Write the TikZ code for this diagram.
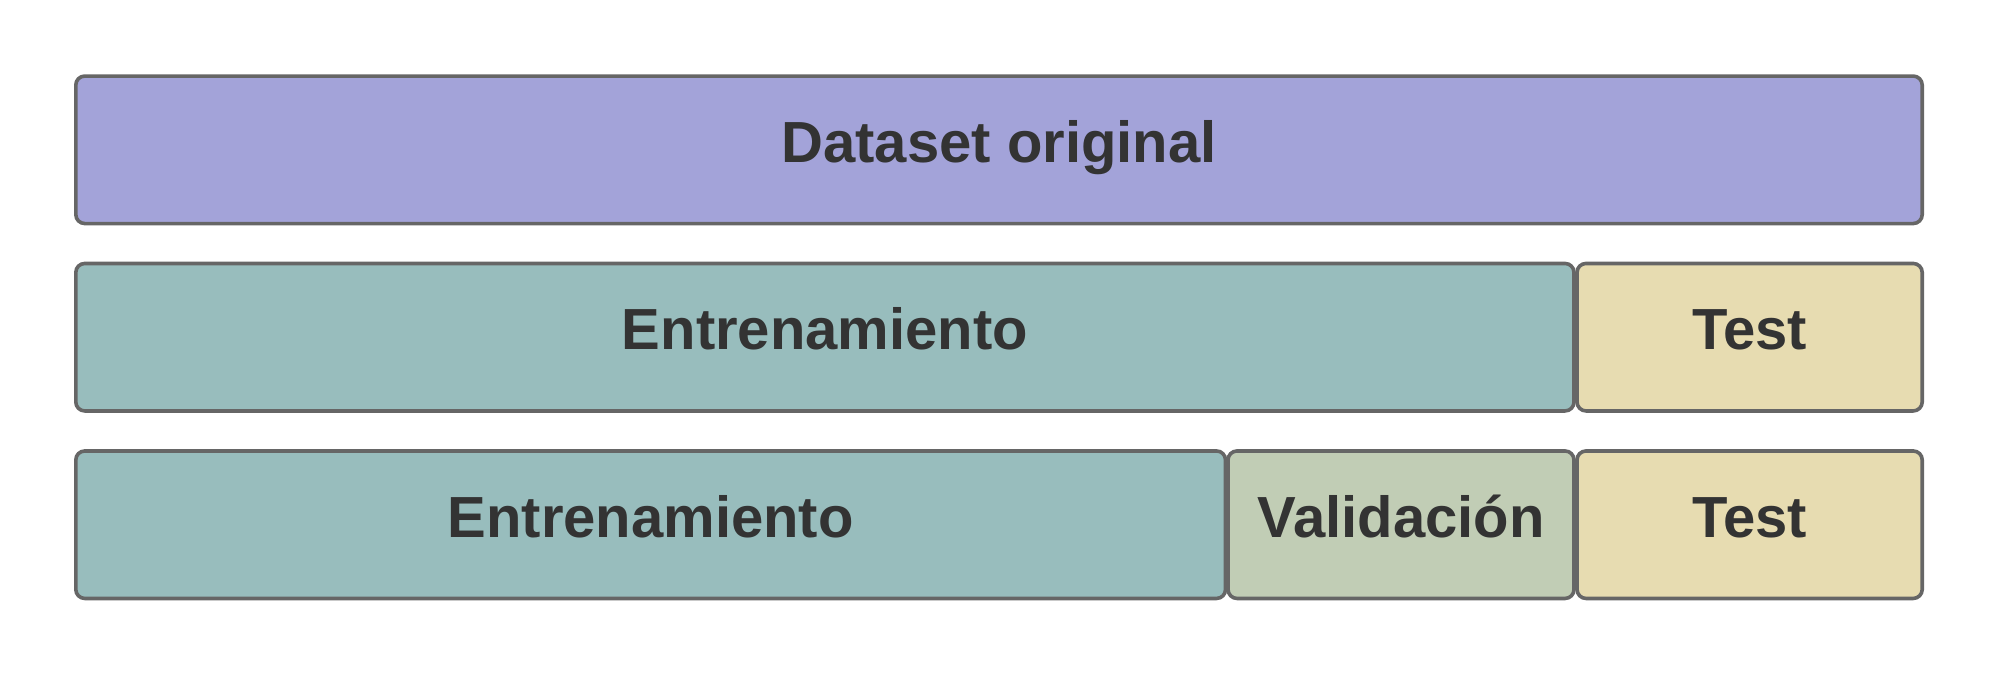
\documentclass[tikz,border=0pt]{standalone}
\usepackage{fontspec}
\setmainfont{Liberation Sans}
\definecolor{cpurple}{RGB}{163,163,217}
\definecolor{cteal}{RGB}{152,189,189}
\definecolor{cval}{RGB}{193,205,181}
\definecolor{ctest}{RGB}{231,220,177}
\definecolor{cline}{RGB}{102,102,102}
\definecolor{ctext}{RGB}{51,51,51}
\begin{document}
\begin{tikzpicture}[x=1pt,y=-1pt,
  part/.style={draw=cline, line width=3.6pt, rounded corners=9pt, inner sep=0pt,
    minimum height=147.5pt, text=ctext, font=\fontsize{58}{62}\selectfont\bfseries,
    text height=25pt, text depth=0pt}]
\useasboundingbox (0,0) rectangle (1999,675);
\fill[white] (0,0) rectangle (1999,675);
\node[part, fill=cpurple, minimum width=1846.4pt] (orig) at (999,149.8) {Dataset original};
\node[part, fill=cteal, minimum width=1498.2pt] (ent2) at (824.9,337.2) {Entrenamiento};
\node[part, fill=ctest, minimum width=345.2pt] (test2) at (1749.6,337.2) {Test};
\node[part, fill=cteal, minimum width=1149.7pt] (ent3) at (650.65,524.7) {Entrenamiento};
\node[part, fill=cval, minimum width=346pt] (val3) at (1401,524.7) {Validación};
\node[part, fill=ctest, minimum width=345.2pt] (test3) at (1749.6,524.7) {Test};
\end{tikzpicture}
\end{document}
